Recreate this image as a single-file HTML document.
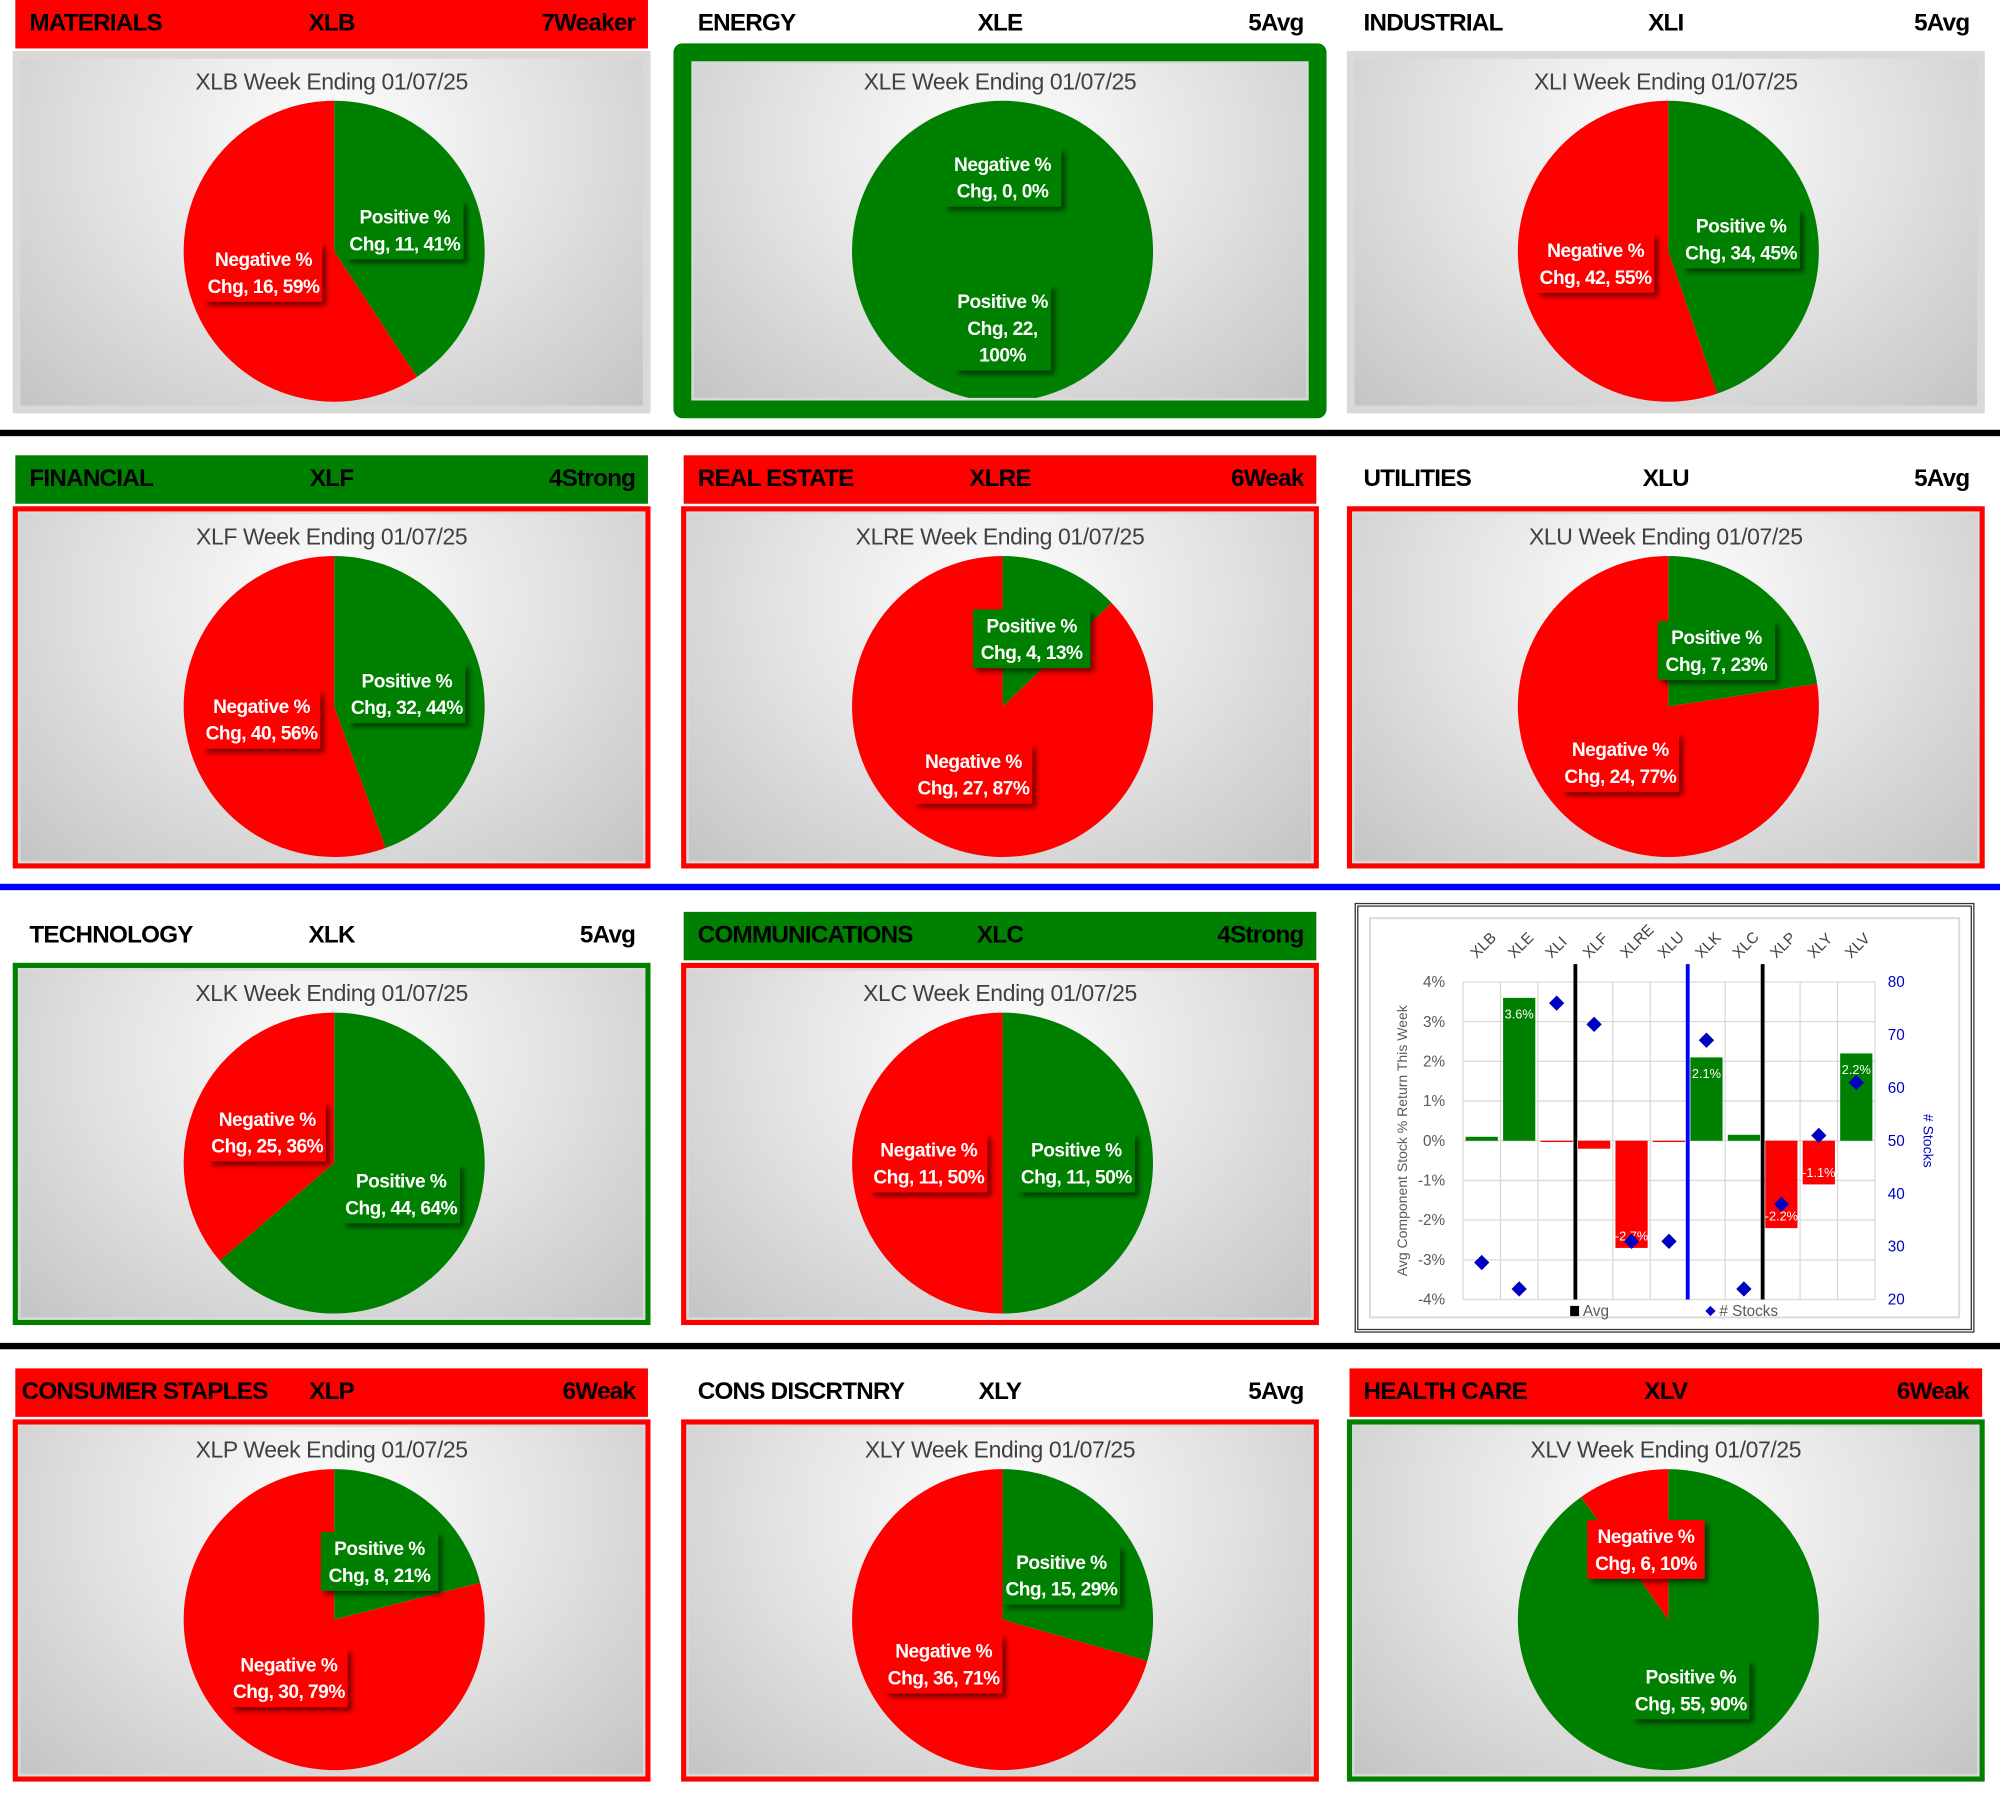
<!DOCTYPE html>
<html><head><meta charset="utf-8">
<style>
html,body{margin:0;padding:0;background:#fff;}
body{width:2000px;height:1802px;overflow:hidden;}
#wrap{position:absolute;left:0;top:0;width:1568px;height:1413px;transform:scale(1.27551,1.27530);transform-origin:0 0;font-family:"Liberation Sans",sans-serif;}
.hdr{position:absolute;height:38px;font-weight:bold;font-size:19px;color:#000;letter-spacing:-0.6px;}
.hdr span{position:absolute;top:8px;}
.box{position:absolute;box-sizing:border-box;}
.plot{position:absolute;background:radial-gradient(ellipse at 50% 25%,#ffffff 0%,#e6e6e6 45%,#c4c4c4 100%);}
.ttl{position:absolute;left:0;right:0;text-align:center;font-size:18px;color:#404040;top:12px;letter-spacing:-0.3px;}
.sep{position:absolute;left:0;width:1568px;}
</style></head><body>
<div id="wrap">
<div class="sep" style="top:337px;height:5px;background:#000"></div>
<div class="sep" style="top:693px;height:5px;background:#0000ff"></div>
<div class="sep" style="top:1053px;height:5px;background:#000"></div>

<div class="box" style="left:1062px;top:708px;width:486px;height:337px;border:3px double #333;background:#fff">
<svg id="bars" width="480" height="331" style="position:absolute;left:0;top:0"></svg>
</div>
</div>
<script>
// pie data
const sectors=["MATERIALS","ENERGY","INDUSTRIAL","FINANCIAL","REAL ESTATE","UTILITIES","TECHNOLOGY","COMMUNICATIONS","CONSUMER STAPLES","CONS DISCRTNRY","HEALTH CARE"];
const tickers=["XLB","XLE","XLI","XLF","XLRE","XLU","XLK","XLC","XLP","XLY","XLV"];
const ratings=["7Weaker","5Avg","5Avg","4Strong","6Weak","5Avg","5Avg","4Strong","6Weak","5Avg","6Weak"];
const posCounts=[11,22,34,32,4,7,44,11,8,15,55];
const negCounts=[16,0,42,40,27,24,25,11,30,36,6];
const headerBg=["#ff0000","#fff","#fff","#008000","#ff0000","#fff","#fff","#008000","#ff0000","#fff","#ff0000"];
const boxBorder=["none","green","none","red","red","red","green","red","red","red","green"];
// bar chart data
const barCats=["XLB","XLE","XLI","XLF","XLRE","XLU","XLK","XLC","XLP","XLY","XLV"];
const avgReturn=[0.1,3.6,-0.02,-0.2,-2.7,-0.03,2.1,0.15,-2.2,-1.1,2.2];
const stockCounts=[27,22,76,72,31,31,69,22,38,51,61];
const leftTicks=[4,3,2,1,0,-1,-2,-3,-4];
const rightTicks=[80,70,60,50,40,30,20];
const avgDividers=[3,6,8];
const dividerColors=["#000","#0000ff","#000"];

const W=document.getElementById('wrap');
const NS="http://www.w3.org/2000/svg";
const colX=[12,536,1058], rowY=[0,357,715,1073];
const slots=[[0,0],[0,1],[0,2],[1,0],[1,1],[1,2],[2,0],[2,1],[3,0],[3,1],[3,2]];
function mk(tag,attrs,parent){const e=document.createElementNS(NS,tag);for(const k in attrs)e.setAttribute(k,attrs[k]);if(parent)parent.appendChild(e);return e;}

slots.forEach((s,i)=>{
  const x=colX[s[1]], y=rowY[s[0]];
  const h=document.createElement('div');h.className='hdr';
  h.style.cssText=`left:${x}px;top:${y}px;width:496px;background:${headerBg[i]}`;
  
  
  h.innerHTML=`<span style="left:${i===8?5:11}px">${sectors[i]}</span><span style="left:0;right:0;text-align:center">${tickers[i]}</span><span style="right:10px">${ratings[i]}</span>`;
  W.appendChild(h);
  const b=document.createElement('div');b.className='box';
  let bx=x-2,by=y+40,bw=500,bh=284,bd=4,bc='#d9d9d9';
  if(i===1){bx=528;by=34;bw=512;bh=294;bd=14;bc='#008000';b.style.borderRadius='7px';}
  else if(boxBorder[i]==='red')bc='#ff0000';else if(boxBorder[i]==='green')bc='#008000';
  b.style.cssText+=`left:${bx}px;top:${by}px;width:${bw}px;height:${bh}px;border:${bd}px solid ${bc};background:#d9d9d9`;
  
  
  W.appendChild(b);
  const p=document.createElement('div');p.className='plot';
  const px=bx+bd+2, py=by+bd+2;
  const pw=bw-2*bd-4, ph=bh-2*bd-4;
  p.style.cssText=`left:${px}px;top:${py}px;width:${pw}px;height:${ph}px`;
  
  
  W.appendChild(p);
  const t=document.createElement('div');t.className='ttl';t.textContent=`${tickers[i]} Week Ending 01/07/25`;
  t.style.top=(y+40+26-py-12)+'px';
  
  
  p.appendChild(t);
  const svg=mk('svg',{width:pw,height:ph,style:'position:absolute;left:0;top:0'},p);
  
  
  const defs=mk('defs',{},svg);
  const f=mk('filter',{id:'sh'+i,x:'-20%',y:'-20%',width:'140%',height:'140%'},defs);
  mk('feDropShadow',{dx:'3',dy:'3',stdDeviation:'2','flood-color':'#000','flood-opacity':'0.55'},f);
  const cx=x+250-px, cy=y+40+157-py, r=118;
  const tot=posCounts[i]+negCounts[i];
  const pf=posCounts[i]/tot;
  const pt=a=>[cx+r*Math.sin(a),cy-r*Math.cos(a)];
  const slices=[{f:pf,c:'#008000',n:'Positive',v:posCounts[i],s:0},{f:1-pf,c:'#ff0000',n:'Negative',v:negCounts[i],s:pf}];
  slices.forEach(sl=>{
    if(sl.f<=0)return;
    let el;
    if(sl.f>=1){el=mk('circle',{cx:cx,cy:cy,r:r,fill:sl.c},svg);}
    else{const a0=sl.s*2*Math.PI,a1=(sl.s+sl.f)*2*Math.PI;const p0=pt(a0),p1=pt(a1);
      el=mk('path',{d:`M${cx},${cy}L${p0[0]},${p0[1]}A${r},${r} 0 ${sl.f>0.5?1:0} 1 ${p1[0]},${p1[1]}Z`,fill:sl.c},svg);}
    
    
  });
  slices.forEach(sl=>{
    const pct=Math.round(sl.f*100);
    let lines=[sl.n+' %',`Chg, ${sl.v}, ${pct}%`];
    if(pct===100)lines=[sl.n+' %',`Chg, ${sl.v},`,`${pct}%`];
    let lx,ly;
    if(sl.f>=1){lx=cx;ly=cy+60;}
    else if(sl.f<=0){lx=cx;ly=cy-58;}
    else{const m=(sl.s+sl.f/2)*2*Math.PI;lx=cx+0.49*r*Math.sin(m);ly=cy-0.49*r*Math.cos(m);}
    const lh=21, bh2=lines.length*lh+4, bw2=lines.length===3?76:92;
    const g=mk('g',{},svg);
    
    
    mk('rect',{x:lx-bw2/2,y:ly-bh2/2,width:bw2,height:bh2,fill:sl.f<=0?'#008000':sl.c,filter:`url(#sh${i})`},g);
    lines.forEach((ln,k)=>{const tx=mk('text',{x:lx,y:ly-bh2/2+18+k*lh,'text-anchor':'middle',fill:'#fff','font-size':'15','font-weight':'bold','letter-spacing':'-0.4','font-family':'Liberation Sans, sans-serif'},g);tx.textContent=ln;});
  });
});

// bar chart
const S=document.getElementById('bars');
const ox=1065, oy=711;
const L=1147-ox, R=1470-ox, T=770-oy, B=1019-oy;
const yL=v=>T+(4-v)/8*(B-T);
const yR=v=>T+(80-v)/60*(B-T);
const cw=(R-L)/barCats.length;
const xC=i=>L+cw*(i+0.5);
mk('rect',{x:9,y:9,width:462,height:313,fill:'none',stroke:'#d9d9d9','stroke-width':1.5},S);
leftTicks.forEach(v=>{
  const gl=mk('line',{x1:L,x2:R,y1:yL(v),y2:yL(v),stroke:'#d9d9d9','stroke-width':1},S);
  
  
  const t=mk('text',{x:L-14,y:yL(v)+4,'text-anchor':'end','font-size':'12',fill:'#595959','font-family':'Liberation Sans, sans-serif'},S);t.textContent=v+'%';
  
  
});
for(let i=0;i<=barCats.length;i++){mk('line',{x1:L+cw*i,x2:L+cw*i,y1:T,y2:B,stroke:'#d9d9d9','stroke-width':1},S);}
rightTicks.forEach(v=>{const t=mk('text',{x:R+10,y:yR(v)+4,'font-size':'12',fill:'#0000c0','font-family':'Liberation Sans, sans-serif'},S);t.textContent=v;
  
  });
barCats.forEach((c,i)=>{
  const v=avgReturn[i], y0=yL(0), y1=yL(v);
  const r=mk('rect',{x:xC(i)-cw*0.43,y:Math.min(y0,y1),width:cw*0.86,height:Math.max(Math.abs(y1-y0),1),fill:v>=0?'#008000':'#ff0000'},S);
  
  
  if(Math.abs(v)>=1){const t=mk('text',{x:xC(i),y:v>=0?y1+16:y1-6,'text-anchor':'middle','font-size':'10',fill:'#fff','font-family':'Liberation Sans, sans-serif'},S);t.textContent=v.toFixed(1)+'%';
    
    }
  const ct=mk('text',{x:xC(i)-4,y:T-18,'font-size':'12',fill:'#404040',transform:`rotate(-45 ${xC(i)-4} ${T-18})`,'font-family':'Liberation Sans, sans-serif'},S);ct.textContent=c;
  
  
});
avgDividers.forEach((d,k)=>{const ln=mk('line',{x1:L+cw*d,x2:L+cw*d,y1:T-14,y2:B,stroke:dividerColors[k],'stroke-width':3},S);
  
  });
stockCounts.forEach((v,i)=>{const cx=xC(i),cy=yR(v);const d=mk('path',{d:`M${cx},${cy-6}L${cx+6},${cy}L${cx},${cy+6}L${cx-6},${cy}Z`,fill:'#0000c0'},S);
  
  });
const ya=mk('text',{x:38,y:(T+B)/2,'text-anchor':'middle','font-size':'11',fill:'#595959',transform:`rotate(-90 38 ${(T+B)/2})`,'font-family':'Liberation Sans, sans-serif'},S);ya.textContent='Avg Component Stock % Return This Week';


const yb=mk('text',{x:443,y:(T+B)/2,'text-anchor':'middle','font-size':'11',fill:'#0000c0',transform:`rotate(90 443 ${(T+B)/2})`,'font-family':'Liberation Sans, sans-serif'},S);yb.textContent='# Stocks';


const lg=mk('g',{},S);


mk('rect',{x:166,y:B+5,width:7,height:8,fill:'#000'},lg);
const l1=mk('text',{x:176,y:B+13,'font-size':'12',fill:'#595959','font-family':'Liberation Sans, sans-serif'},lg);l1.textContent='Avg';
mk('path',{d:`M276,${B+5}L280,${B+9}L276,${B+13}L272,${B+9}Z`,fill:'#0000c0'},lg);
const l2=mk('text',{x:283,y:B+13,'font-size':'12',fill:'#595959','font-family':'Liberation Sans, sans-serif'},lg);l2.textContent='# Stocks';
</script>
</body></html>
